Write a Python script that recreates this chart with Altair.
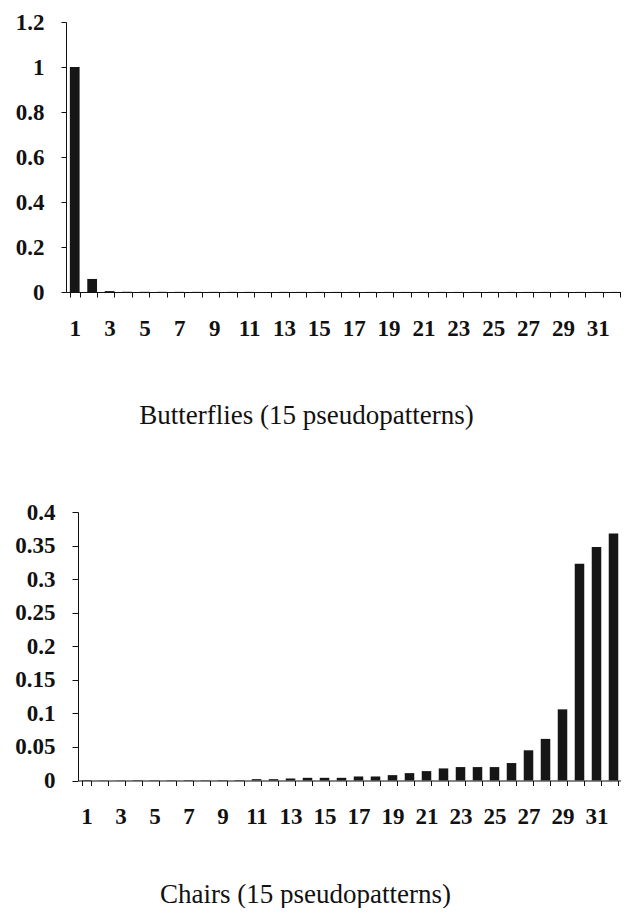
import altair as alt
import pandas as pd

# ---- data ----
bins = list(range(1, 33))

butterflies = [1.0, 0.058, 0.004, 0.001, 0.0008, 0.0007, 0.0006, 0.0006, 0.0005, 0.0005,
               0.0005, 0.0005, 0.0005, 0.0004, 0.0004, 0.0004, 0.0004, 0.0004, 0.0004, 0.0004,
               0.0004, 0.0004, 0.0004, 0.0004, 0.0004, 0.0004, 0.0004, 0.0004, 0.0004, 0.0004,
               0.0004, 0.0004]

chairs = [0.0006, 0.0005, 0.0005, 0.0006, 0.0005, 0.0005, 0.0006, 0.0005, 0.0006, 0.0007,
          0.002, 0.002, 0.003, 0.004, 0.004, 0.004, 0.006, 0.006, 0.008, 0.011,
          0.014, 0.018, 0.02, 0.02, 0.02, 0.026, 0.045, 0.062, 0.106, 0.323,
          0.348, 0.368]

top_ticks = [0, 0.2, 0.4, 0.6, 0.8, 1.0, 1.2]
bottom_ticks = [0, 0.05, 0.1, 0.15, 0.2, 0.25, 0.3, 0.35, 0.4]

top_caption = "Butterflies (15 pseudopatterns)"
bottom_caption = "Chairs (15 pseudopatterns)"

FONT = "Liberation Serif"
INK = "#111111"
W, H = 613, 900

df_top = pd.DataFrame({"idx": bins, "val": butterflies})
df_bot = pd.DataFrame({"idx": bins, "val": chairs})

odd_only = "datum.value % 2 == 1 ? datum.label : ''"


def panel(df, xr, yr, ydom, yvals, y_axis_x, x_axis_y, caption, cap_x, cap_y, ytick):
    return alt.Chart(df).mark_bar(color="#161616").encode(
        x=alt.X(
            "idx:O",
            scale=alt.Scale(range=xr, paddingInner=0.44, paddingOuter=0.22),
            axis=alt.Axis(
                orient="bottom", offset=x_axis_y - H,
                title=caption, titleX=cap_x, titleY=cap_y,
                titleAlign="center", titleBaseline="alphabetic",
                titleFont=FONT, titleFontSize=27, titleFontWeight="normal", titleColor=INK,
                labelAngle=0, labelExpr=odd_only, labelOverlap=False,
                labelFont=FONT, labelFontSize=23, labelFontWeight="bold",
                labelColor=INK, labelPadding=20,
                tickBand="extent", tickSize=5, tickColor=INK, domainColor=INK,
                grid=False,
            ),
        ),
        y=alt.Y(
            "val:Q",
            scale=alt.Scale(domain=ydom, range=yr, nice=False, zero=True),
            axis=alt.Axis(
                orient="left", offset=-y_axis_x, values=yvals, format=".2~f",
                title=None, grid=False,
                labelFont=FONT, labelFontSize=23, labelFontWeight="bold",
                labelColor=INK, labelPadding=17,
                tickSize=ytick, tickColor=INK, domainColor=INK,
            ),
        ),
    )


top = panel(df_top, [58, 616], [284, 14], [0, 1.2], top_ticks, 58, 284,
            top_caption, 298, 131, 5)
bottom = panel(df_bot, [70, 614], [772.5, 504], [0, 0.4], bottom_ticks, 70, 772.5,
               bottom_caption, 297, 122, 6)

chart = alt.layer(top, bottom).resolve_scale(
    x="independent", y="independent"
).resolve_axis(
    x="independent", y="independent"
).properties(
    width=W, height=H, padding=0,
    autosize=alt.AutoSizeParams(type="none"),
).configure_view(stroke=None)

chart.save("out.html", embed_options={"renderer": "svg", "actions": False})
